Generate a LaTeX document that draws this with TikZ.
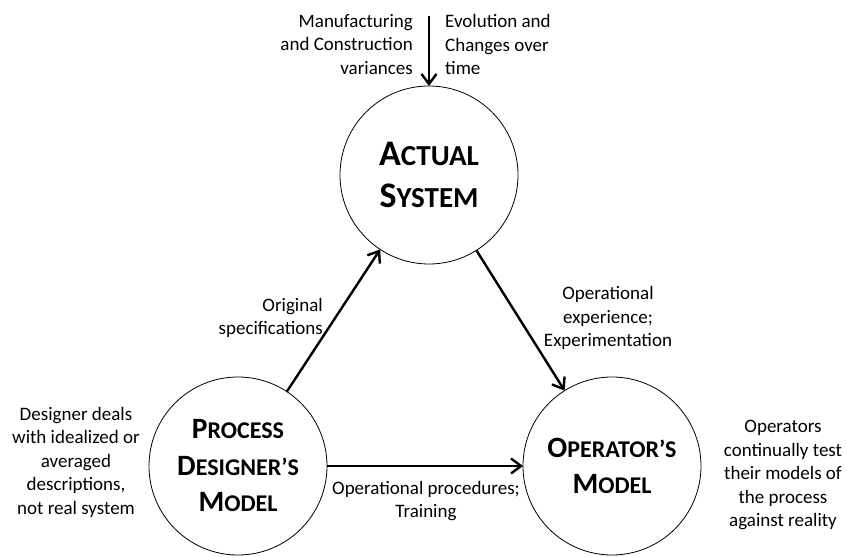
\documentclass[tikz,border=0pt]{standalone}
\usepackage{fontspec}
\setmainfont{Carlito}
\usetikzlibrary{positioning,arrows.meta}

\newcommand{\titlefont}[3]{\fontsize{#1}{#2}\selectfont\bfseries\def\scsize{#3}}
\newcommand{\capsword}[2]{#1{\fontsize{\scsize}{0pt}\selectfont #2}}

\tikzset{
    model/.style={draw, circle, line width=0.8pt, minimum size=178pt, inner sep=0pt, outer sep=0pt, align=center},
    note/.style={font=\fontsize{19}{23.5}\selectfont, inner sep=0pt},
    flow/.style={-{Straight Barb[length=10pt,width=15pt]}, line width=2.4pt}
}

\begin{document}
\begin{tikzpicture}[x=1pt,y=1pt]
    \useasboundingbox (0,0) rectangle (847,557);
    % models
    \node[model, font={\titlefont{36}{42}{29}}] (actual) at (429,382) {\capsword{A}{CTUAL}\\\capsword{S}{YSTEM}};
    \node[model, font={\titlefont{29.5}{36.5}{24}}] (designer) at (238,91) {\capsword{P}{ROCESS}\\\capsword{D}{ESIGNER’S}\\\capsword{M}{ODEL}};
    \node[model, font={\titlefont{29.5}{36.5}{24}}] (operator) at (612,91) {\capsword{O}{PERATOR’S}\\\capsword{M}{ODEL}};
    \coordinate (input) at (429,541);

    % connectors
    \draw[flow] (input) -- (actual);
    \draw[flow] (designer) -- (actual);
    \draw[flow] (actual) -- (operator);
    \draw[flow] (designer) -- (operator);

    % notes
    \node[note, align=right, anchor=east] (variances) at (413,512.5) {Manufacturing\\and Construction\\variances};
    \node[note, align=left, anchor=west] (evolution) at (445,512.5) {Evolution and\\Changes over\\time};
    \node[note, align=right, anchor=east] (specs) at (323,239) {Original\\specifications};
    \node[note, align=center] (experience) at (608,239) {Operational\\experience;\\Experimentation};
    \node[note, align=center] (procedures) at (426,56) {Operational procedures;\\Training};
    \node[note, align=center] (idealized) at (76,95) {Designer deals\\with idealized or\\averaged\\descriptions,\\not real system};
    \node[note, align=center] (testing) at (783,82) {Operators\\continually test\\their models of\\the process\\against reality};
\end{tikzpicture}
\end{document}
